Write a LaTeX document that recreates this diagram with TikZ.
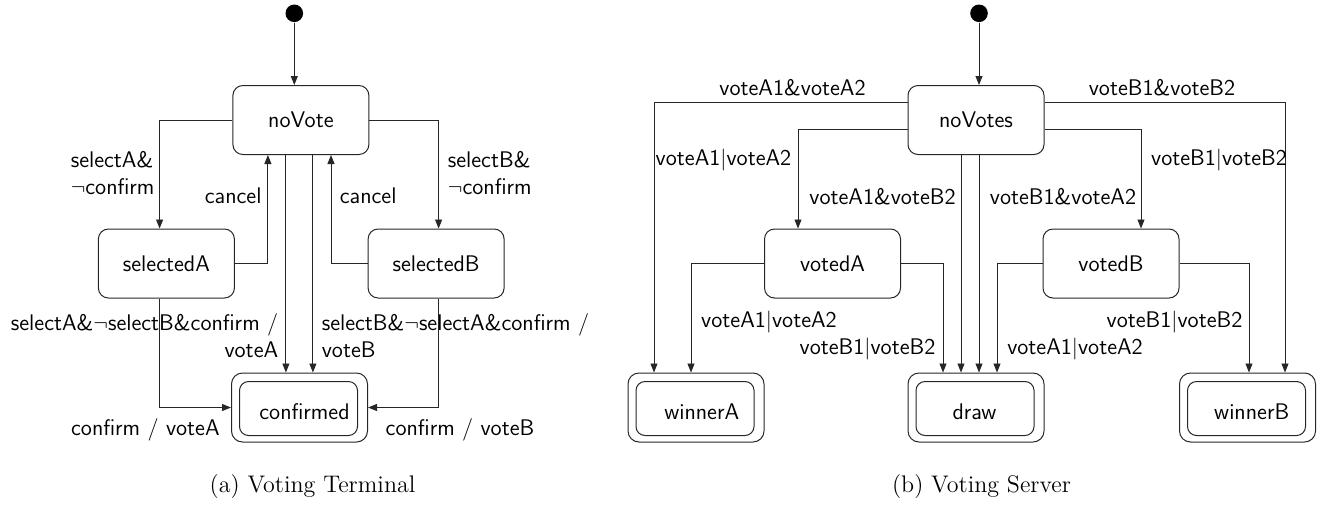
\documentclass[tikz,border=0pt]{standalone}
\usetikzlibrary{arrows.meta,calc}
\begin{document}
\begin{tikzpicture}[x=0.5pt,y=-0.5pt,
  stbox/.style={draw=black!85, rounded corners=5pt, line width=0.5pt, minimum width=68pt, minimum height=34.5pt, inner sep=0pt, font={\sffamily\fontsize{11.3}{13.5}\selectfont}},
  finout/.style={draw=black!85, rounded corners=5.5pt, line width=0.5pt, minimum width=68pt, minimum height=34.5pt, inner sep=0pt},
  finin/.style={draw=black!85, rounded corners=4.5pt, line width=0.5pt, minimum width=59pt, minimum height=27pt, inner sep=0pt},
  txt/.style={font={\sffamily\fontsize{11.3}{13.5}\selectfont}, inner sep=0pt},
  lbl/.style={txt},
  initdot/.style={circle, fill, minimum size=8.8pt, inner sep=0pt},
  arr/.style={-{Triangle[length=4.5pt,width=3.5pt]}, line width=0.45pt, draw=black!85},
  capt/.style={font={\rmfamily\fontsize{12}{14}\selectfont}, inner sep=0pt}]
\useasboundingbox (0,0) rectangle (1325,509);

% ---------- (a) Voting Terminal ----------
\node[initdot] (i1) at (294.3,13.3) {};
\node[stbox] (noVote) at (300.9,120) {noVote};
\node[stbox] (selA) at (166.4,263.5) {selectedA};
\node[stbox] (selB) at (436.1,263.5) {selectedB};
\node[finout] (conf) at (299.5,407.5) {};
\node[finin] (confI) at (298.5,408.5) {};
\node[txt] (confT) at (304.5,412) {confirmed};

\draw[arr] (i1) -- (i1 |- noVote.north);
\draw[arr] (noVote.west) -| ($(selA.north)+(-6.8,0)$);
\draw[arr] (noVote.east) -| ($(selB.north)+(2.5,0)$);
\draw[arr] (selA.east) -| ($(noVote.south)+(-33,0)$);
\draw[arr] (selB.west) -| ($(noVote.south)+(30.1,0)$);
\coordinate (d1) at ($(noVote.south)+(-15,0)$);
\coordinate (d2) at ($(noVote.south)+(12,0)$);
\draw[arr] (d1) -- (d1 |- conf.north);
\draw[arr] (d2) -- (d2 |- conf.north);
\draw[arr] ($(selA.south)+(-6.8,0)$) |- (conf.west);
\draw[arr] ($(selB.south)+(2.5,0)$) |- (conf.east);

\node[lbl, align=left, anchor=west] (lA) at (70.4,173.5) {selectA\&\\$\neg$confirm};
\node[lbl] (lc1) at (233.2,196) {cancel};
\node[lbl] (lc2) at (368.2,196) {cancel};
\node[lbl, align=left, anchor=west] (lB) at (447.5,173.5) {selectB\&\\$\neg$confirm};
\node[lbl, align=right, anchor=east] (lA2) at (278.6,335.5) {selectA\&$\neg$selectB\&confirm /\\voteA};
\node[lbl, align=left, anchor=west] (lB2) at (321.4,335.5) {selectB\&$\neg$selectA\&confirm /\\voteB};
\node[lbl] (lcA) at (145.4,430) {confirm / voteA};
\node[lbl] (lcB) at (460,430) {confirm / voteB};
\node[capt] (capa) at (312.5,487) {(a) Voting Terminal};

% ---------- (b) Voting Server ----------
\node[initdot] (i2) at (979,13.3) {};
\node[stbox] (noVotes) at (976,120) {noVotes};
\node[stbox] (vA) at (832.5,263.5) {votedA};
\node[stbox] (vB) at (1111,263.5) {votedB};
\node[finout] (wA) at (696,407.5) {};
\node[finin] (wAI) at (695,408.5) {};
\node[txt] (wAT) at (701.7,412) {winnerA};
\node[finout] (dr) at (976,407.5) {};
\node[finin] (drI) at (975,408.5) {};
\node[txt] (drT) at (974.5,412) {draw};
\node[finout] (wB) at (1247.5,407.5) {};
\node[finin] (wBI) at (1246.5,408.5) {};
\node[txt] (wBT) at (1251.7,412) {winnerB};

\draw[arr] (i2) -- (i2 |- noVotes.north);
\draw[arr] ($(noVotes.west)+(0,-18)$) -| ($(wA.north)+(-42,0)$);
\draw[arr] ($(noVotes.west)+(0,9)$) -| ($(vA.north)+(-34.5,0)$);
\coordinate (e1) at ($(noVotes.south)+(-15,0)$);
\coordinate (e2) at ($(noVotes.south)+(3,0)$);
\draw[arr] (e1) -- (e1 |- dr.north);
\draw[arr] (e2) -- (e2 |- dr.north);
\draw[arr] ($(noVotes.east)+(0,-18)$) -| ($(wB.north)+(37.5,0)$);
\draw[arr] ($(noVotes.east)+(0,9)$) -| ($(vB.north)+(30,0)$);
\draw[arr] (vA.west) -| ($(wA.north)+(-5,0)$);
\draw[arr] (vA.east) -| ($(dr.north)+(-33,0)$);
\draw[arr] (vB.west) -| ($(dr.north)+(21,0)$);
\draw[arr] (vB.east) -| ($(wB.north)+(1.5,0)$);

\node[lbl] (r1) at (792.5,88) {voteA1\&voteA2};
\node[lbl] (r2) at (723.5,160) {voteA1$|$voteA2};
\node[lbl] (r3) at (882.5,197) {voteA1\&voteB2};
\node[lbl] (r4) at (1063,197) {voteB1\&voteA2};
\node[lbl] (r5) at (1162,88) {voteB1\&voteB2};
\node[lbl] (r6) at (1219,160) {voteB1$|$voteB2};
\node[lbl] (r7) at (769,322) {voteA1$|$voteA2};
\node[lbl] (r8) at (867.5,349) {voteB1$|$voteB2};
\node[lbl] (r9) at (1174.5,322) {voteB1$|$voteB2};
\node[lbl] (r10) at (1075,349) {voteA1$|$voteA2};
\node[capt] (capb) at (981.5,487) {(b) Voting Server};
\end{tikzpicture}
\end{document}
